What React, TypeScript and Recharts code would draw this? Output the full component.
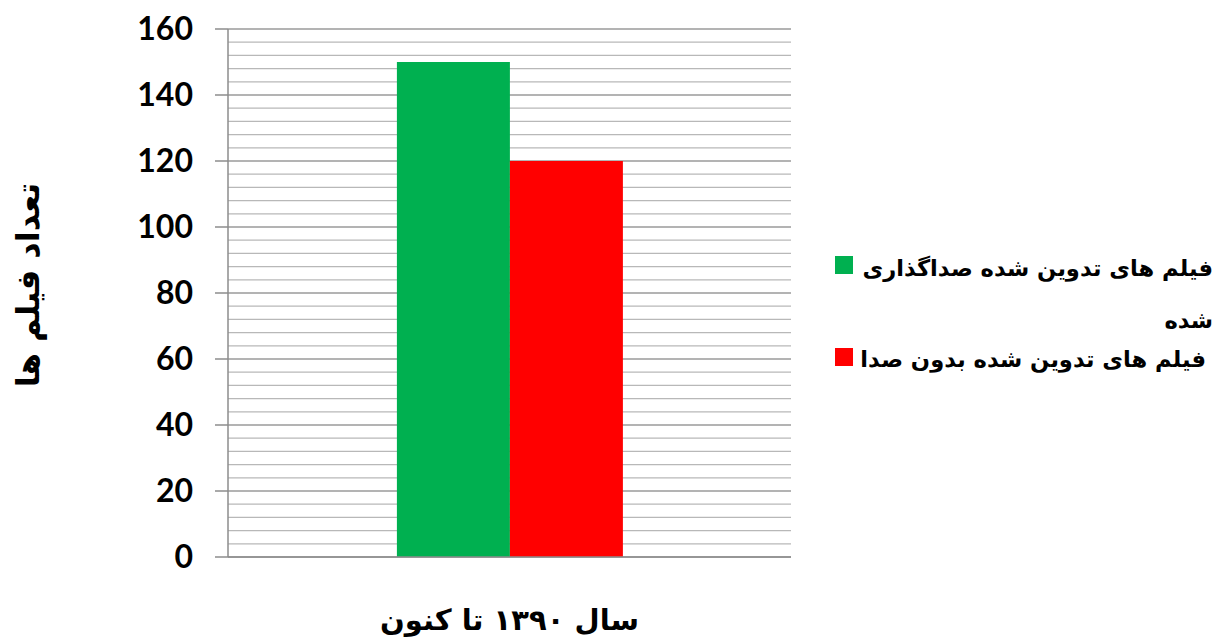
import React from 'react';
import { BarChart, Bar, XAxis, YAxis, CartesianGrid } from 'recharts';

const categories = ['سال ۱۳۹۰ تا کنون'];
const dubbedFilms = [150];
const silentFilms = [120];
const seriesLabels = [
  ['فیلم های تدوین شده صداگذاری', 'شده'],
  ['فیلم های تدوین شده بدون صدا'],
];
const seriesColors = ['#00b050', '#ff0000'];
const yTicks = [0, 20, 40, 60, 80, 100, 120, 140, 160];
const minorTicks = [
  0, 4, 8, 12, 16, 20, 24, 28, 32, 36, 40, 44, 48, 52, 56, 60, 64, 68, 72, 76, 80,
  84, 88, 92, 96, 100, 104, 108, 112, 116, 120, 124, 128, 132, 136, 140, 144, 148,
  152, 156, 160,
];
const yTitle = 'تعداد فیلم ها';

const data = categories.map((c, i) => ({
  name: c,
  dubbed: dubbedFilms[i],
  silent: silentFilms[i],
}));

const persianFont = '"DejaVu Sans", sans-serif';

const XTick = (props: any) => {
  const { x, y, payload } = props;
  return (
    <text
      x={x}
      y={y + 55}
      textAnchor="middle"
      dominantBaseline="central"
      fontFamily={persianFont}
      fontWeight={700}
      fontSize={29}
      fill="#000"
    >
      {payload.value}
    </text>
  );
};

const YTitle = (props: any) => {
  const vb = props.viewBox || { x: 0, y: 0, width: 0, height: 0 };
  const cx = 28;
  const cy = vb.y + vb.height / 2 - 8;
  return (
    <text
      x={cx}
      y={cy}
      transform={`rotate(-90 ${cx} ${cy})`}
      textAnchor="middle"
      dominantBaseline="central"
      fontFamily={persianFont}
      fontWeight={700}
      fontSize={32}
      fill="#000"
    >
      {yTitle}
    </text>
  );
};

const LegendBox = () => {
  const textStyle: React.CSSProperties = {
    position: 'absolute',
    right: 0,
    fontFamily: persianFont,
    fontWeight: 700,
    fontSize: 22.6,
    color: '#000',
    direction: 'rtl',
    whiteSpace: 'nowrap',
    lineHeight: '30px',
  };
  const sq = (color: string, top: number): React.CSSProperties => ({
    position: 'absolute',
    left: 5,
    top,
    width: 18,
    height: 18,
    background: color,
  });
  return (
    <div style={{ position: 'absolute', left: 830, top: 245, width: 383, height: 140 }}>
      <div style={sq(seriesColors[0], 11)} />
      <div style={{ ...textStyle, top: 8 }}>{seriesLabels[0][0]}</div>
      <div style={{ ...textStyle, top: 60 }}>{seriesLabels[0][1]}</div>
      <div style={sq(seriesColors[1], 103)} />
      <div style={{ ...textStyle, top: 99, right: 7 }}>{seriesLabels[1][0]}</div>
    </div>
  );
};

export default function App() {
  return (
    <div style={{ position: 'absolute', left: 0, top: 0, width: 1218, height: 641, background: '#fff' }}>
      <BarChart
        width={1218}
        height={641}
        data={data}
        margin={{ top: 29, right: 427, bottom: 24, left: 0 }}
        barCategoryGap="30%"
        barGap={0}
      >
        <CartesianGrid vertical={false} horizontalValues={minorTicks} stroke="#b8b8b8" strokeWidth={1.2} />
        <CartesianGrid vertical={false} horizontalValues={yTicks} stroke="#8c8c8c" strokeWidth={1.2} />
        <XAxis
          dataKey="name"
          height={60}
          axisLine={{ stroke: '#8c8c8c', strokeWidth: 1.5 }}
          tickLine={false}
          tick={<XTick />}
        />
        <YAxis
          width={228}
          domain={[0, 160]}
          ticks={yTicks}
          interval={0}
          tickSize={13}
          tickMargin={22}
          axisLine={{ stroke: '#8c8c8c', strokeWidth: 1.5 }}
          tickLine={{ stroke: '#8c8c8c', strokeWidth: 1.5 }}
          tick={{ fontFamily: 'Lato, sans-serif', fontWeight: 700, fontSize: 32, fill: '#000' }}
          label={<YTitle />}
        />
        <Bar dataKey="dubbed" name="فیلم های تدوین شده صداگذاری شده" fill={seriesColors[0]} isAnimationActive={false} />
        <Bar dataKey="silent" name="فیلم های تدوین شده بدون صدا" fill={seriesColors[1]} isAnimationActive={false} />
      </BarChart>
      <LegendBox />
    </div>
  );
}
